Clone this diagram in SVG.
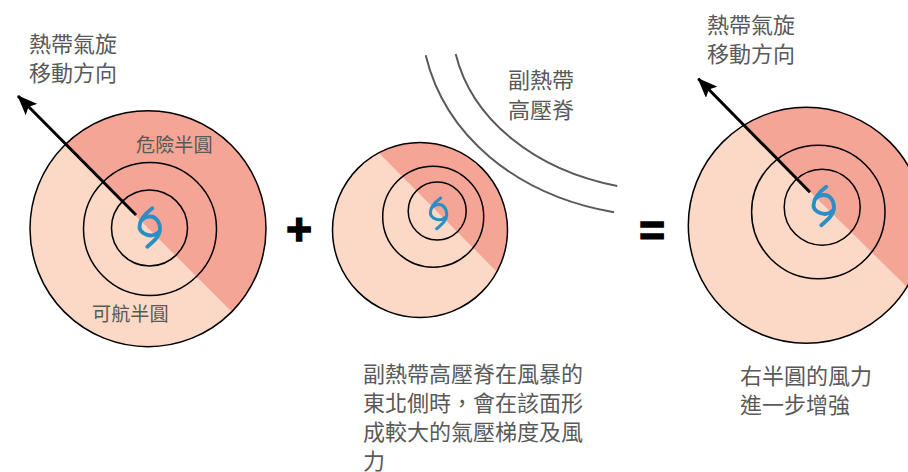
<svg xmlns="http://www.w3.org/2000/svg" width="908" height="472" viewBox="0 0 908 472">
<style>
text{font-family:"Noto Sans CJK TC","Noto Sans CJK SC",sans-serif;fill:#595959;font-weight:400}
.lg{font-size:22px}
.sm{font-size:19.200px}
.sign{font-family:"Liberation Sans",sans-serif;font-weight:700;font-size:44px;fill:#000;stroke:#000;stroke-width:1.6}
.safe{fill:#fbd9c6}
.danger{fill:#f4a596}
.ring{fill:none;stroke:#000;stroke-width:1.5}
.ridge{fill:none;stroke:#595959;stroke-width:2}
.move{stroke:#000;stroke-width:3;fill:none;marker-end:url(#head)}
.spin{fill:none;stroke:#2a8fc4;stroke-width:3.800;stroke-linecap:round;stroke-linejoin:round}
</style>
<defs>
<marker id="head" viewBox="0 0 20 16" refX="19" refY="8" markerUnits="userSpaceOnUse" markerWidth="20" markerHeight="16" orient="auto"><path d="M0 0L20 8L0 16L4 8Z" fill="#000"/></marker>
<g id="spiral"><path class="spin" d="M3.300 -18.700C-3 -14 -9.500 -7 -9.500 0C-9.500 5 -3 8.500 2 8.500C5 8.500 7 7.500 9 5.500"/><path class="spin" d="M-8 -6.500C-5 -9.500 -2 -10.500 1 -10.500C7 -10.500 11 -5 11 2C11 9 5 14 -1.700 19.700"/></g>
<clipPath id="clip-left"><circle cx="148" cy="228.700" r="118"/></clipPath>
<clipPath id="clip-middle"><circle cx="420" cy="230" r="87.500"/></clipPath>
<clipPath id="clip-right"><circle cx="806.300" cy="225.300" r="118"/></clipPath>
</defs>
<g id="storm-left">
<circle class="safe" cx="148" cy="228.700" r="118"/>
<path class="danger" clip-path="url(#clip-left)" d="M65 145L231 311L300 250L300 60L120 60Z"/>
<circle class="ring" cx="148" cy="228.700" r="118"/>
<circle class="ring" cx="150" cy="229" r="66.500"/>
<circle class="ring" cx="149.500" cy="228" r="38"/>
<use href="#spiral" x="149" y="227"/>
<text class="sm" x="136" y="152">危險半圓</text>
<text class="sm" x="92" y="321">可航半圓</text>
</g>
<g id="storm-middle">
<circle class="safe" cx="420" cy="230" r="87.500"/>
<path class="danger" clip-path="url(#clip-middle)" d="M380 154L496 271L540 250L540 110L400 110L360 134Z"/>
<circle class="ring" cx="420" cy="230" r="87.500"/>
<circle class="ring" cx="433.200" cy="216.700" r="50.500"/>
<circle class="ring" cx="437.200" cy="211" r="29"/>
<use href="#spiral" transform="translate(438 213) scale(.8)"/>
</g>
<g id="storm-right">
<circle class="safe" cx="806.300" cy="225.300" r="118"/>
<path class="danger" clip-path="url(#clip-right)" d="M743.300 126L907 287L940 287L940 80L760 80L720 103Z"/>
<circle class="ring" cx="806.300" cy="225.300" r="118"/>
<circle class="ring" cx="818.300" cy="212" r="66.700"/>
<circle class="ring" cx="822.200" cy="207.200" r="38"/>
<use href="#spiral" x="823" y="205.500"/>
</g>
<g id="connectors">
<path class="move" d="M136 215L18 96"/>
<path class="move" d="M810 192.300L698.300 78.700"/>
<path class="ridge" d="M425.700 55.300C445 135 515 195 614 212.300"/>
<path class="ridge" d="M455.700 54C472 120 535 170 617.300 186"/>
</g>
<g id="label-move-left"><text class="lg" x="29" y="52">熱帶氣旋</text><text class="lg" x="29" y="81">移動方向</text></g>
<g id="label-move-right"><text class="lg" x="707" y="33">熱帶氣旋</text><text class="lg" x="707" y="62">移動方向</text></g>
<g id="label-ridge"><text class="lg" x="508" y="88">副熱帶</text><text class="lg" x="508" y="118">高壓脊</text></g>
<g id="label-plus"><text class="sign" x="299" y="245" text-anchor="middle">+</text></g>
<g id="label-equals"><text class="sign" x="652" y="246" text-anchor="middle">=</text></g>
<g id="caption-middle"><text class="lg"><tspan x="363" y="382">副熱帶高壓脊在風暴的</tspan><tspan x="363" y="411">東北側時，會在該面形</tspan><tspan x="363" y="440">成較大的氣壓梯度及風</tspan><tspan x="363" y="469">力</tspan></text></g>
<g id="caption-right"><text class="lg" x="740" y="384">右半圓的風力</text><text class="lg" x="740" y="413">進一步增強</text></g>
</svg>
